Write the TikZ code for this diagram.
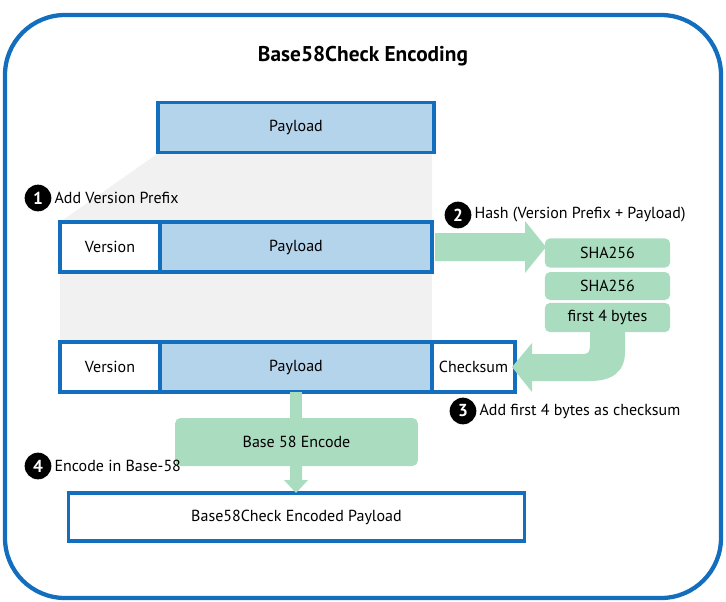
\documentclass[tikz,border=0pt]{standalone}
\usepackage{fontspec}
\setmainfont{PT Sans}
\usetikzlibrary{positioning}
\definecolor{frameblue}{RGB}{20,110,190}
\definecolor{paylblue}{RGB}{180,212,236}
\definecolor{hashgreen}{RGB}{170,220,192}
\definecolor{shadegray}{RGB}{241,241,241}
\tikzset{
  field/.style = {draw = frameblue, line width = 2.6pt, minimum height = 37.5pt, inner sep = 0pt, font = \fontsize{12}{14}\selectfont},
  hashstep/.style = {fill = hashgreen, rounded corners = 4pt, inner sep = 0pt, font = \fontsize{12}{14}\selectfont},
  marker/.style = {circle, fill = black, text = white, font = \fontsize{13}{15}\selectfont\bfseries, inner sep = 0pt, minimum size = 20pt},
  note/.style = {right, font = \fontsize{12}{14}\selectfont, inner sep = 2pt}
}
\begin{document}
\begin{tikzpicture}[x = 0.75pt, y = -0.75pt]

    \useasboundingbox (0,0) rectangle (726,601);
    \draw [frameblue, line width = 3.2pt, rounded corners = 45pt] (5,15) rectangle (721,598);
    \node [font = \fontsize{16}{19}\selectfont\bfseries] (title) at (363,56) {Base58Check Encoding};

    % shaded funnels
    \fill [shadegray] (160,152) -- (432,152) -- (432,222) -- (60,222) -- cycle;
    \fill [shadegray] (60,272) rectangle (432,342);

    % fields
    \node [field, fill = paylblue, minimum width = 207pt] (payload) at (296,127.5) {Payload};
    \node [field, fill = white, minimum width = 75pt] (version2) at (110,247) {Version};
    \node [field, fill = paylblue, minimum width = 204pt] (payload2) at (296,247) {Payload};
    \node [field, fill = white, minimum width = 75pt] (version3) at (110,367) {Version};
    \node [field, fill = paylblue, minimum width = 204pt] (payload3) at (296,367) {Payload};
    \node [field, fill = white, minimum width = 62pt] (checksum) at (473.5,367) {Checksum};
    \node [field, fill = white, minimum width = 342pt, minimum height = 36pt] (encoded) at (296.5,517) {Base58Check Encoded Payload};

    % hashing
    \node [hashstep, minimum width = 94pt, minimum height = 22pt] (sha1) at (607.5,253) {SHA256};
    \node [hashstep, minimum width = 94pt, minimum height = 21pt] (sha2) at (607.5,286) {SHA256};
    \node [hashstep, minimum width = 94pt, minimum height = 22pt] (first4) at (607.5,317.5) {first 4 bytes};
    \fill [hashgreen] (435,233) -- (525,233) -- (525,221) -- (546,247) -- (525,273) -- (525,261) -- (435,261) -- cycle;
    \fill [hashgreen] (590,332) -- (625,332) -- (625,352) .. controls (625,372) and (612,381) .. (590,381) -- (532,381) -- (532,392) -- (512,367) -- (532,343) -- (532,354) -- (584,354) .. controls (589,354) and (590,350) .. (590,345) -- cycle;

    % encoding
    \fill [hashgreen] (290,392) rectangle (302,420);
    \node [hashstep, minimum width = 182pt, minimum height = 36pt] (encode) at (296.5,442) {Base 58 Encode};
    \fill [hashgreen] (290,466) -- (302,466) -- (302,480) -- (308,480) -- (296,493) -- (284,480) -- (290,480) -- cycle;

    % markers
    \node [marker] (m1) at (38,198) {1};
    \node [note] at (m1.east) {Add Version Prefix};
    \node [marker] (m2) at (458,215) {2};
    \node [note] at (m2.east) {Hash (Version Prefix + Payload)};
    \node [marker] (m3) at (463,411) {3};
    \node [note] at (m3.east) {Add first 4 bytes as checksum};
    \node [marker] (m4) at (38,466) {4};
    \node [note] at (m4.east) {Encode in Base-58};
    \end{tikzpicture}
\end{document}
